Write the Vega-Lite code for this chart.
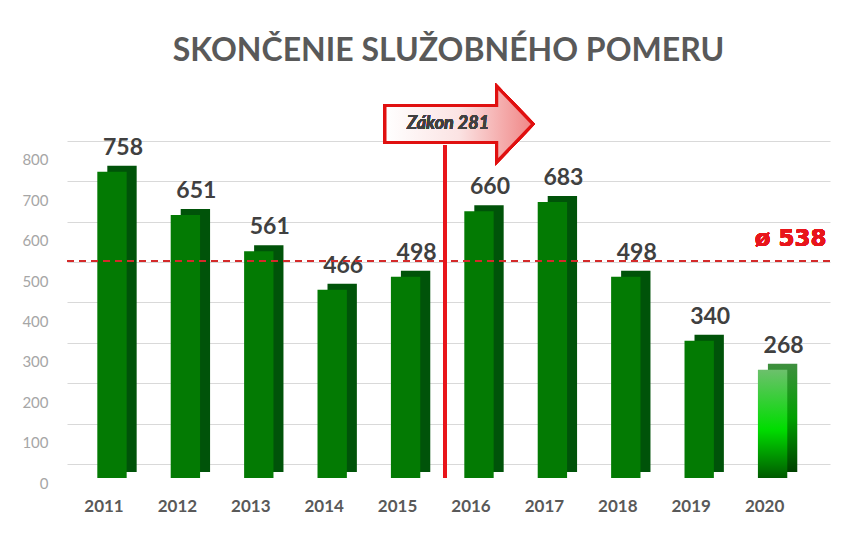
{
  "$schema": "https://vega.github.io/schema/vega-lite/v6.json",
  "autosize": {"type": "none"},
  "padding": {"left": 67, "top": 74, "right": 15, "bottom": 62},
  "width": 763,
  "height": 404,
  "background": "white",
  "title": {
    "text": "SKONČENIE SLUŽOBNÉHO POMERU",
    "font": "Lato",
    "fontSize": 32,
    "fontWeight": "bold",
    "color": "#595959",
    "anchor": "middle",
    "baseline": "alphabetic",
    "offset": -19
  },
  "config": {"view": {"stroke": null}},
  "data": {
    "values": [
      {"year": "2011", "value": 758},
      {"year": "2012", "value": 651},
      {"year": "2013", "value": 561},
      {"year": "2014", "value": 466},
      {"year": "2015", "value": 498},
      {"year": "2016", "value": 660},
      {"year": "2017", "value": 683},
      {"year": "2018", "value": 498},
      {"year": "2019", "value": 340},
      {"year": "2020", "value": 268}
    ]
  },
  "layer": [
    {
      "mark": {"type": "bar", "xOffset": 10, "x2Offset": 10, "yOffset": -6, "y2Offset": -6},
      "encoding": {
        "x": {
          "field": "year",
          "type": "ordinal",
          "scale": {"paddingInner": 0.6, "paddingOuter": 0.4975, "align": 0.415},
          "axis": {
            "title": null,
            "labelAngle": 0,
            "labelFont": "Lato",
            "labelFontSize": 17,
            "labelFontWeight": "bold",
            "labelColor": "#595959",
            "labelOffset": -8,
            "labelPadding": 20,
            "domain": false,
            "ticks": false
          }
        },
        "y": {
          "field": "value",
          "type": "quantitative",
          "scale": {"domain": [0, 1000]},
          "axis": {
            "title": null,
            "values": [0, 100, 200, 300, 400, 500, 600, 700, 800],
            "grid": true,
            "gridColor": "#d9d9d9",
            "domain": false,
            "ticks": false,
            "tickOffset": -14,
            "labelOffset": 19,
            "labelFont": "Lato",
            "labelFontSize": 15,
            "labelColor": "#a6a6a6",
            "labelPadding": 19
          }
        },
        "color": {
          "condition": {
            "test": "datum.year == '2020'",
            "value": {
              "gradient": "linear", "x1": 0, "y1": 0, "x2": 0, "y2": 1,
              "stops": [
                {"offset": 0, "color": "#3f8f3f"},
                {"offset": 0.5, "color": "#00a000"},
                {"offset": 1, "color": "#004000"}
              ]
            }
          },
          "value": "#005309"
        }
      }
    },
    {
      "mark": {"type": "bar"},
      "encoding": {
        "x": {"field": "year", "type": "ordinal"},
        "y": {"field": "value", "type": "quantitative"},
        "color": {
          "condition": {
            "test": "datum.year == '2020'",
            "value": {
              "gradient": "linear", "x1": 0, "y1": 0, "x2": 0, "y2": 1,
              "stops": [
                {"offset": 0, "color": "#6cc06c"},
                {"offset": 0.55, "color": "#00dd00"},
                {"offset": 1, "color": "#005a00"}
              ]
            }
          },
          "value": "#037a03"
        }
      }
    },
    {
      "mark": {"type": "text", "font": "Lato", "fontSize": 23, "fontWeight": "bold", "color": "#404040", "baseline": "alphabetic", "dy": -17, "xOffset": 11},
      "encoding": {
        "x": {"field": "year", "type": "ordinal"},
        "y": {"field": "value", "type": "quantitative"},
        "text": {"field": "value", "type": "quantitative"}
      }
    },
    {
      "mark": {"type": "rule", "color": "#d42a2a", "strokeWidth": 1.5, "strokeDash": [7, 5]},
      "encoding": {"y": {"datum": 538}}
    },
    {
      "mark": {"type": "text", "font": "DejaVu Sans", "fontSize": 23, "fontWeight": "bold", "color": "#e8151b", "align": "right", "baseline": "middle", "dy": -22, "xOffset": 54},
      "encoding": {
        "x": {"datum": "2020"},
        "y": {"datum": 538},
        "text": {"value": "ø 538"}
      }
    },
    {
      "mark": {"type": "rule", "color": "#e8151b", "strokeWidth": 3.5, "xOffset": -34},
      "encoding": {
        "x": {"datum": "2016"},
        "y": {"datum": 0},
        "y2": {"datum": 824}
      }
    },
    {
      "mark": {
        "type": "point",
        "shape": "M -1 -0.25 L 0.51 -0.25 L 0.51 -0.51 L 1 0 L 0.51 0.51 L 0.51 0.25 L -1 0.25 Z",
        "size": 21904,
        "filled": true,
        "opacity": 1,
        "fill": {
          "gradient": "linear", "x1": 0, "y1": 0, "x2": 1, "y2": 0,
          "stops": [
            {"offset": 0, "color": "#ffffff"},
            {"offset": 0.5, "color": "#fbe3e3"},
            {"offset": 1, "color": "#f08585"}
          ]
        },
        "stroke": "#e01010",
        "strokeWidth": 3,
        "xOffset": -20
      },
      "encoding": {
        "x": {"datum": "2016"},
        "y": {"datum": 876}
      }
    },
    {
      "mark": {"type": "text", "font": "Lato", "fontSize": 18, "fontWeight": "bold", "fontStyle": "italic", "color": "#404040", "baseline": "middle", "xOffset": -31},
      "encoding": {
        "x": {"datum": "2016"},
        "y": {"datum": 876},
        "text": {"value": "Zákon 281"}
      }
    }
  ]
}
